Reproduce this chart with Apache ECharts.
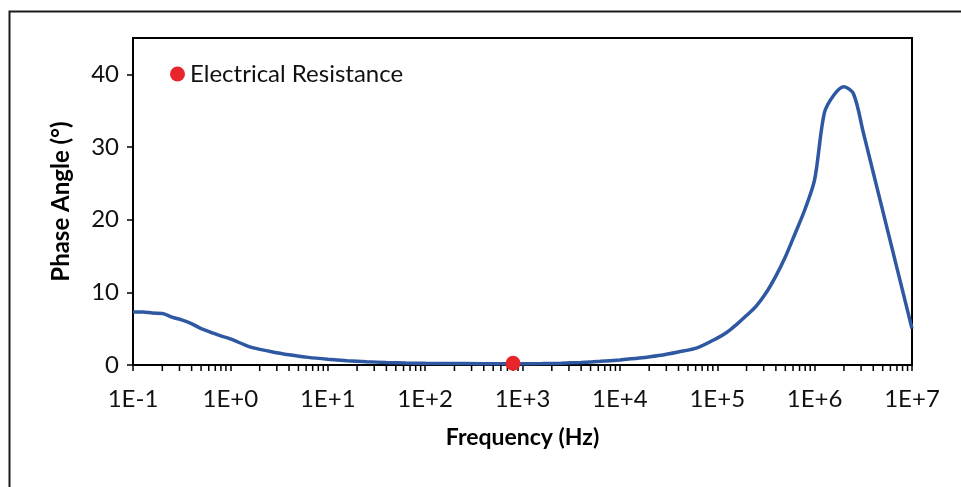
<!DOCTYPE html>
<html>
<head>
<meta charset="utf-8">
<script src="https://cdn.jsdelivr.net/npm/echarts@6/dist/echarts.min.js"></script>
<style>html,body{margin:0;padding:0;background:#fff}#chart{width:961px;height:487px}</style>
</head>
<body>
<div id="chart"></div>
<script>
// Frequency (Hz) and phase angle (degrees) of the blue curve
const frequency = [0.1, 0.126, 0.158, 0.2, 0.251, 0.316, 0.398, 0.501, 0.631, 0.794, 1, 1.58, 2.51, 3.98, 6.31, 10, 15.8, 25.1, 39.8, 63.1, 100, 251, 631, 1585, 2512, 3981, 6310, 10000, 15850, 25120, 39810, 63100, 100000, 125900, 158500, 199500, 251200, 316200, 398100, 501200, 631000, 794300, 1000000, 1259000, 1585000, 1995000, 2512000, 3162000, 3981000, 5012000, 6310000, 7943000, 10000000];
const phaseAngle = [7.3, 7.3, 7.15, 7.1, 6.6, 6.2, 5.7, 5.0, 4.5, 4.0, 3.6, 2.5, 1.9, 1.4, 1.05, 0.8, 0.6, 0.45, 0.35, 0.28, 0.24, 0.2, 0.18, 0.2, 0.25, 0.35, 0.5, 0.7, 0.95, 1.3, 1.8, 2.4, 3.7, 4.5, 5.6, 6.8, 8.1, 9.9, 12.2, 14.9, 18.1, 21.4, 25.5, 34.7, 37.2, 38.3, 37.3, 32.0, 26.6, 21.2, 15.8, 10.4, 5.0];
// Electrical Resistance point
const resistanceFreq = [800];
const resistanceAngle = [0.25];
// Tick labels
const xTickLabels = ['1E-1', '1E+0', '1E+1', '1E+2', '1E+3', '1E+4', '1E+5', '1E+6', '1E+7'];
const yTickValues = [0, 10, 20, 30, 40];
const minorMultipliers = [2, 3, 4, 5, 6, 7, 8, 9];
const decadeStarts = [0.1, 1, 10, 100, 1000, 10000, 100000, 1000000];

const minorTicks = [];
decadeStarts.forEach(d => minorMultipliers.forEach(m => minorTicks.push([d * m, 0])));

const FONT = 'Lato, "Open Sans", sans-serif';
const chart = echarts.init(document.getElementById('chart'), null, {renderer: 'canvas'});
chart.setOption({
  animation: false,
  backgroundColor: '#fff',
  textStyle: {fontFamily: FONT},
  graphic: [{
    type: 'rect', left: 7, top: 9,
    shape: {x: 0, y: 0, width: 1000, height: 520},
    style: {fill: 'none', stroke: '#1a1a1a', lineWidth: 2}, silent: true, z: 0
  }],
  grid: {left: 133, right: 49, top: 38, bottom: 122, show: true, borderColor: '#000', borderWidth: 2, backgroundColor: 'transparent'},
  legend: {
    data: ['Electrical Resistance'], left: 165, top: 57, icon: 'circle', itemWidth: 15, itemHeight: 15, itemGap: 5,
    itemStyle: {opacity: 1},
    textStyle: {fontSize: 24, color: '#111', fontFamily: FONT}
  },
  xAxis: {
    type: 'log', logBase: 10, min: 0.1, max: 10000000, interval: 1,
    name: 'Frequency (Hz)', nameLocation: 'middle', nameGap: 61,
    nameTextStyle: {fontSize: 23, fontWeight: 'bold', color: '#000', fontFamily: FONT},
    axisLine: {lineStyle: {color: '#000', width: 2}},
    axisTick: {show: true, inside: false, length: 6, lineStyle: {color: '#000', width: 1.5}},
    axisLabel: {
      fontSize: 24, color: '#111', margin: 22, fontFamily: FONT,
      formatter: v => xTickLabels[Math.round(Math.log10(v)) + 1]
    },
    splitLine: {show: false}
  },
  yAxis: {
    type: 'value', min: 0, max: 45, interval: 10,
    name: 'Phase Angle (°)', nameLocation: 'middle', nameGap: 60, nameRotate: 90,
    nameTextStyle: {fontSize: 24, fontWeight: 'bold', color: '#000', fontFamily: FONT},
    axisLine: {show: true, lineStyle: {color: '#000', width: 2}},
    axisTick: {show: true, inside: false, length: 6, customValues: yTickValues, lineStyle: {color: '#000', width: 1.5}},
    axisLabel: {fontSize: 24, color: '#111', margin: 14, customValues: yTickValues, fontFamily: FONT},
    splitLine: {show: false}
  },
  series: [
    {
      name: 'Phase', type: 'line', smooth: 0.3, showSymbol: false,
      data: frequency.map((f, i) => [f, phaseAngle[i]]),
      lineStyle: {color: '#2E58A2', width: 3.5}, itemStyle: {color: '#2E58A2'}, z: 3
    },
    {
      name: 'Electrical Resistance', type: 'scatter', symbol: 'circle', symbolSize: 15,
      data: resistanceFreq.map((f, i) => [f, resistanceAngle[i]]),
      itemStyle: {color: '#E8252A', opacity: 1}, z: 5
    },
    {
      name: 'minorTicks', type: 'custom', clip: false, silent: true,
      data: minorTicks,
      renderItem: (params, api) => {
        const p = api.coord([api.value(0), 0]);
        return {type: 'line', shape: {x1: p[0], y1: p[1], x2: p[0], y2: p[1] + 6}, style: {stroke: '#000', lineWidth: 1.5}};
      },
      z: 4
    }
  ]
});
</script>
</body>
</html>
